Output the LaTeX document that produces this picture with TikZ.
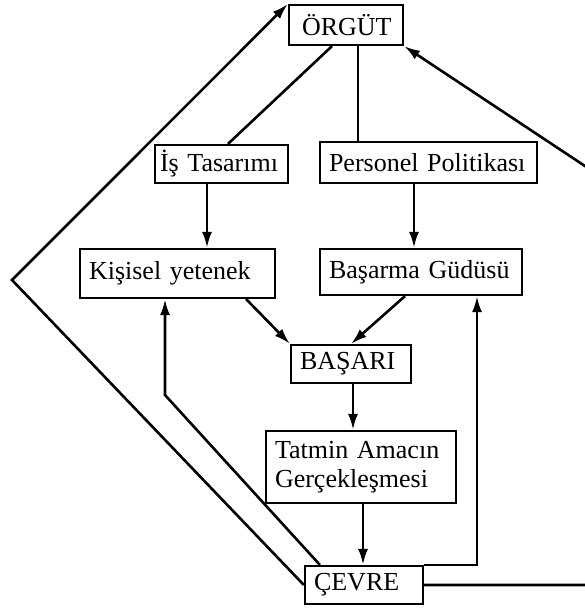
\documentclass[tikz,border=0pt]{standalone}
\usepackage{fontspec}
\setmainfont{Liberation Serif}
\usetikzlibrary{arrows.meta}
\tikzset{
  box/.style={draw,line width=2.2pt,align=left,inner xsep=9pt,inner ysep=0pt,
    font=\fontsize{26}{29}\selectfont},
  link/.style={line width=2.6pt},
  arr/.style={link,-{Latex[length=16pt,width=10pt]}}
}
\begin{document}
\begin{tikzpicture}[x=1pt,y=-1pt]
\useasboundingbox (0,0) rectangle (585,608);
\clip (0,0) rectangle (585,608);
\node[box,text width=96pt,minimum height=40pt] (orgut) at (346,25) {\hspace*{4pt}ÖRGÜT};
\node[box,inner xsep=5pt,text width=123pt,minimum height=38pt] (is) at (221.5,164) {İş Tasarımı};
\node[box,text width=199pt,minimum height=41pt] (personel) at (428.5,162.5) {Personel Politikası};
\node[box,text width=177pt,minimum height=49pt] (kisisel) at (177.5,273.5) {Kişisel yetenek};
\node[box,text width=184pt,minimum height=46pt] (basarma) at (421,272) {Başarma Güdüsü};
\node[box,text width=102pt,minimum height=38pt] (basari) at (351,364) {BAŞARI};
\node[box,text width=172pt,minimum height=72pt] (tatmin) at (361,467) {Tatmin Amacın\\Gerçekleşmesi};
\node[box,text width=100pt,minimum height=38pt] (cevre) at (364,585) {ÇEVRE};
\coordinate (lturn) at (12,280);
\coordinate (kturn) at (165,395);
\coordinate (rdown) at (600,585);
\coordinate (rup) at (600,176);
% from the organisation
\draw[link] ([xshift=-14pt]orgut.south) -- ([xshift=6.5pt]is.north);
\draw[link] ([xshift=12pt]orgut.south) -- ([xshift=12pt]orgut.south |- personel.north);
\draw[arr] ([xshift=-14.5pt]is.south) -- ([xshift=-14.5pt]is.south |- kisisel.north);
\draw[arr] ([xshift=-14.5pt]personel.south) -- ([xshift=-14.5pt]personel.south |- basarma.north);
% towards success
\draw[arr] ([xshift=-30pt]kisisel.south east) -- (basari.north west);
\draw[arr] ([xshift=-16pt]basarma.south) -- ([xshift=0pt]basari.north);
\draw[arr] ([xshift=2pt]basari.south) -- ([xshift=2pt]basari.south |- tatmin.north);
\draw[arr] ([xshift=2pt]tatmin.south) -- ([xshift=2pt]tatmin.south |- cevre.north);
% feedback from the environment
\draw[arr] ([xshift=16pt]cevre.north west) -- (kturn) -- (kturn |- kisisel.south);
\draw[arr] (cevre.west) -- (lturn) -- (orgut.north west);
\draw[arr] (cevre.north east) -| ([xshift=56pt]basarma.south);
\draw[arr] (cevre.east) -- (rdown) -- (rup) -- (orgut.south east);
\end{tikzpicture}
\end{document}
